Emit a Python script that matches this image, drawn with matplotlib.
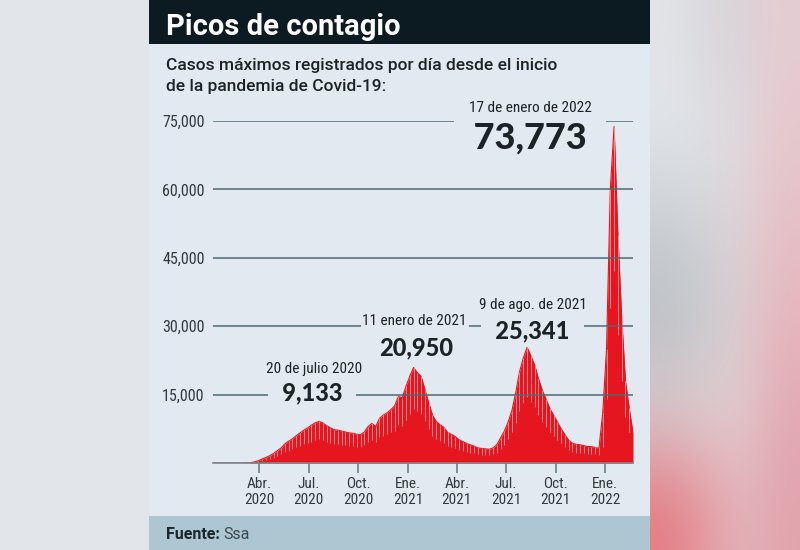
import numpy as np
import pandas as pd
import matplotlib.pyplot as plt
from matplotlib.patches import Rectangle
from matplotlib import font_manager as fm

# Casos diarios, leídos semana a semana: máximo de la semana y caída de fin de semana
inicio = "2020-01-06"
semana_max = [0, 0, 0, 0, 0, 0, 0, 0, 10, 30, 80, 250, 500, 900, 1200, 1600,
              2100, 2700, 3300, 4200, 4800, 5300, 6000, 6600, 7200, 7700, 8300, 8800,
              9133, 8800, 8200, 7700, 7300, 7200, 7000, 6800, 6600, 6500, 6300, 6200,
              6800, 8000, 8700, 8000, 9800, 10500, 11000, 11700, 12500, 14600, 14300, 16800,
              19000, 20950, 19800, 19000, 16100, 13200, 10500, 9100, 8400, 7800, 6700, 6300,
              5800, 5100, 4700, 4300, 4000, 3700, 3300, 3200, 3100, 3000, 3300, 4000,
              5500, 7000, 9000, 11500, 15400, 20000, 23000, 25341, 23500, 21500, 18500, 16000,
              14000, 12000, 10500, 9000, 7500, 6200, 5000, 4300, 4100, 4000, 3800, 3600,
              3600, 3400, 3200, 11000, 25000, 60000, 73773, 50000, 32000, 18000, 12000, 6600]
semana_min = [0, 0, 0, 0, 0, 0, 0, 0, 0, 10, 40, 120, 280, 500, 700, 900,
              1200, 1500, 1900, 2400, 2700, 3000, 3400, 3800, 4100, 4400, 4700, 5000,
              5300, 5000, 4700, 4400, 4200, 4100, 4000, 3900, 3800, 3700, 3600, 3500,
              3900, 4600, 5000, 4600, 5600, 6000, 6300, 6700, 7100, 8300, 8100, 9500,
              10800, 11900, 11300, 10800, 9200, 7500, 6000, 5200, 4800, 4400, 3800, 3600,
              3300, 2900, 2700, 2400, 2300, 2100, 1900, 1800, 1800, 1700, 1900, 2300,
              3100, 4000, 5200, 6800, 8800, 11400, 13100, 14400, 13400, 12200, 10500, 9100,
              8000, 6800, 6000, 5100, 4300, 3500, 2800, 2400, 2300, 2300, 2200, 2000,
              2000, 1900, 1800, 3500, 14000, 34000, 42000, 28000, 18000, 10000, 6800, 3700]
fechas = pd.date_range(inicio, periods=len(semana_max), freq="7D")

y_ticks = [15000, 30000, 45000, 60000, 75000]
x_ticks = ["2020-04-01", "2020-07-01", "2020-10-01", "2021-01-01",
           "2021-04-01", "2021-07-01", "2021-10-01", "2022-01-01"]
x_labels = ["Abr.\n2020", "Jul.\n2020", "Oct.\n2020", "Ene.\n2021",
            "Abr.\n2021", "Jul.\n2021", "Oct.\n2021", "Ene.\n2022"]

pico_fechas = ["20 de julio 2020", "11 enero de 2021", "9 de ago. de 2021", "17 de enero de 2022"]
pico_valores = ["9,133", "20,950", "25,341", "73,773"]

rojo = "#e5161f"
panel = "#e3e9f0"
texto = "#1d2226"


def peso(f):
    w = f.weight
    if isinstance(w, str):
        w = fm.weight_dict.get(w, 400)
    return w


# busca alguna fuente estrecha instalada para las etiquetas pequeñas
def fuente_estrecha(size):
    estrechas = [f for f in fm.fontManager.ttflist
                 if ("Narrow" in f.name or "Condensed" in f.name
                     or f.stretch in ("condensed", "semi-condensed", "extra-condensed"))
                 and f.style == "normal" and peso(f) == 400]
    if estrechas:
        orden = ["Roboto", "Open Sans", "Noto Sans", "Liberation", "DejaVu"]
        estrechas.sort(key=lambda f: next((i for i, n in enumerate(orden) if n in f.name), 9))
        return fm.FontProperties(fname=estrechas[0].fname, size=size)
    return fm.FontProperties(family="Roboto", size=size * 0.92)


# la más gruesa disponible para las cifras grandes
def fuente_pesada(size):
    orden = ["Lato", "Roboto", "Noto Sans", "Open Sans"]
    gruesas = [f for f in fm.fontManager.ttflist
               if f.name in orden and f.style == "normal" and f.stretch == "normal"]
    if gruesas:
        gruesas.sort(key=lambda f: (-peso(f), orden.index(f.name)))
        return fm.FontProperties(fname=gruesas[0].fname, size=size)
    return fm.FontProperties(family="DejaVu Sans", weight="bold", size=size)


def fx(x):
    return x / 800


def fy(y):
    return 1 - y / 550


fig = plt.figure(figsize=(8, 5.5), dpi=100)
fig.patch.set_facecolor("#e2e6eb")

# fondo difuminado a la derecha
fondo = np.array([
    ["#e2e4e8", "#d9d9dd", "#dcd2d7", "#e4cdd3"],
    ["#e1e5ea", "#e0e2e6", "#e2d9dd", "#e5c8ce"],
    ["#c9cdd2", "#d0d2d6", "#ddd2d6", "#e6bfc6"],
    ["#bcc0c5", "#c8cacd", "#dccbcf", "#e6b6be"],
    ["#d9cbcf", "#e0cfd3", "#e2c9ce", "#e2aab3"],
    ["#e57c84", "#e599a0", "#e2b4ba", "#e1a4ad"],
])
rgb = np.array([[[int(c[i:i + 2], 16) / 255 for i in (1, 3, 5)] for c in fila] for fila in fondo])
bg = fig.add_axes([fx(650), 0, fx(150), 1])
bg.imshow(rgb, aspect="auto", interpolation="bicubic", extent=[0, 1, 0, 1])
bg.axis("off")

fig.add_artist(Rectangle((fx(149), 0), fx(501), 1, transform=fig.transFigure,
                         fc=panel, ec="none", zorder=-5))
fig.add_artist(Rectangle((fx(149), fy(44)), fx(501), 44 / 550, transform=fig.transFigure,
                         fc="#0c1a22", ec="none", zorder=-4))
fig.add_artist(Rectangle((fx(149), 0), fx(501), 34 / 550, transform=fig.transFigure,
                         fc="#adc6d2", ec="none", zorder=-4))

fig.text(fx(166), fy(35), "Picos de contagio", color="white", fontsize=21,
         fontweight="bold", family="Roboto", va="baseline")
fig.text(fx(166), fy(70), "Casos máximos registrados por día desde el inicio",
         color=texto, fontsize=12.5, fontweight="medium", family="Roboto", va="baseline")
fig.text(fx(166), fy(91), "de la pandemia de Covid-19:",
         color=texto, fontsize=12.5, fontweight="medium", family="Roboto", va="baseline")
fig.text(fx(166), fy(539), "Fuente:", color="#1b262c", fontsize=11.5,
         fontweight="bold", family="Roboto", va="baseline")
fig.text(fx(223), fy(539), "Ssa", color="#3b4950", fontsize=11.5,
         family="Roboto", va="baseline")

# gráfica
ax = fig.add_axes([fx(213), fy(463), fx(420), 342 / 550])
ax.patch.set_visible(False)
ax.fill_between(fechas, semana_max, color=rojo, lw=0, zorder=2)
ax.plot(fechas, semana_max, color=rojo, lw=0.8, zorder=2)
ax.vlines(fechas, semana_min, semana_max, color="#f4b3b7", lw=0.5, zorder=2.5)
for v in y_ticks:
    ax.axhline(v, color="#4d6b76", lw=1.3, alpha=0.85, zorder=3)

ax.set_xlim(fechas[0], fechas[-1])
ax.set_ylim(0, 75000)
for s in ["top", "right", "left"]:
    ax.spines[s].set_visible(False)
ax.spines["bottom"].set_color("#7a878d")
ax.spines["bottom"].set_linewidth(1.2)
ax.spines["bottom"].set_zorder(3)

ax.set_yticks(y_ticks)
ax.set_yticklabels([f"{v:,}" for v in y_ticks], fontproperties=fuente_estrecha(11.5),
                   color="#33393e")
ax.tick_params(axis="y", length=0, pad=6)
ax.set_xticks(pd.to_datetime(x_ticks))
ax.set_xticklabels(x_labels, fontproperties=fuente_estrecha(11), color="#33393e",
                   linespacing=1.2)
ax.tick_params(axis="x", length=7, width=1.2, color="#6e7d84", pad=3)

caja = dict(boxstyle="square,pad=0.12", fc=panel, ec="none")
caja_grande = dict(boxstyle="square,pad=0.3", fc=panel, ec="none")
etq = fuente_estrecha(11)
cifra = fuente_pesada(17)
cifra_grande = fuente_pesada(26)
# etiquetas de los picos
ax.text(pd.Timestamp("2020-07-11"), 20600, pico_fechas[0], ha="center", va="center",
        fontproperties=etq, color=texto, zorder=5)
ax.text(pd.Timestamp("2020-07-07"), 15300, "  " + pico_valores[0] + "  ", ha="center",
        va="center", fontproperties=cifra, color=texto, bbox=caja, zorder=5)
ax.text(pd.Timestamp("2021-01-13"), 31100, pico_fechas[1], ha="center", va="center",
        fontproperties=etq, color=texto, bbox=caja, zorder=5)
ax.text(pd.Timestamp("2021-01-15"), 25200, pico_valores[1], ha="center", va="center",
        fontproperties=cifra, color=texto, zorder=5)
ax.text(pd.Timestamp("2021-08-19"), 34650, pico_fechas[2], ha="center", va="center",
        fontproperties=etq, color=texto, zorder=5)
ax.text(pd.Timestamp("2021-08-19"), 28950, "  " + pico_valores[2] + "  ", ha="center",
        va="center", fontproperties=cifra, color=texto, bbox=caja, zorder=5)
ax.text(pd.Timestamp("2021-08-15"), 77850, pico_fechas[3], ha="center", va="center",
        fontproperties=etq, color=texto, zorder=6)
ax.text(pd.Timestamp("2021-08-15"), 71270, " " + pico_valores[3] + " ", ha="center",
        va="center", fontproperties=cifra_grande, color=texto, bbox=caja_grande, zorder=5)

fig.savefig("out.png", dpi=100, facecolor=fig.get_facecolor())
